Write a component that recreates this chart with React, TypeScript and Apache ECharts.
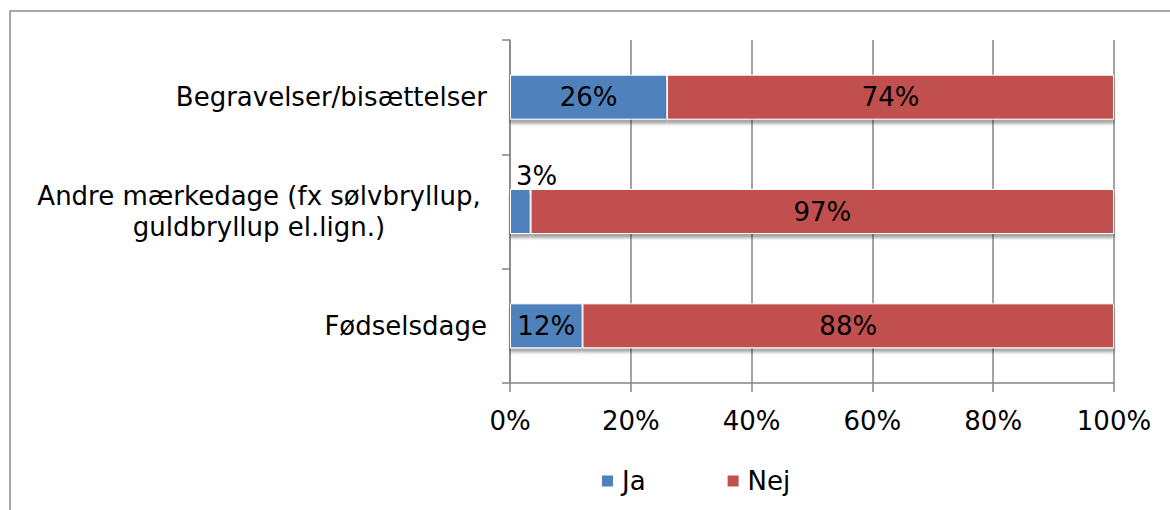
import React, { useEffect, useRef } from "react";
import * as echarts from "echarts";

const categories = [
  "Fødselsdage",
  "Andre mærkedage (fx sølvbryllup,\nguldbryllup el.lign.)",
  "Begravelser/bisættelser",
];
const jaValues = [12, 3.4, 26];
const nejValues = [88, 96.6, 74];
const xTicks = [0, 20, 40, 60, 80, 100];
const seriesNames = ["Ja", "Nej"];

const FONT = "DejaVu Sans";
const GRID = "#868686";
const FS = 26;

export default function App() {
  const ref = useRef<HTMLDivElement>(null);
  useEffect(() => {
    if (!ref.current) return;
    const chart = echarts.init(ref.current, null, { renderer: "svg" });
    const fmt = (p: any) => `${Math.round(p.value)}%`;
    const barStyle = {
      borderColor: "#ffffff",
      borderWidth: 1,
      shadowColor: "rgba(0,0,0,0.35)",
      shadowOffsetY: 4,
      shadowBlur: 3,
    };
    chart.setOption({
      animation: false,
      textStyle: { fontFamily: FONT },
      graphic: [
        {
          type: "rect",
          shape: { x: 10, y: 11, width: 1300, height: 700 },
          style: { fill: "none", stroke: "#8c8c8c", lineWidth: 1.5 },
          silent: true,
        },
      ],
      grid: { left: 510, right: 56, top: 40, bottom: 127, containLabel: false },
      legend: {
        data: seriesNames,
        left: 595,
        top: 463,
        icon: "rect",
        itemWidth: 13,
        itemHeight: 13,
        itemGap: 80,
        textStyle: {
          fontFamily: FONT,
          fontSize: FS,
          color: "#000",
          padding: [0, 0, 0, 3],
        },
      },
      xAxis: {
        type: "value",
        min: 0,
        max: 100,
        interval: 20,
        axisLine: { show: true, lineStyle: { color: GRID, width: 1.5 } },
        axisTick: { show: true, length: 9, lineStyle: { color: GRID, width: 1.5 } },
        splitLine: { show: true, lineStyle: { color: GRID, width: 1.5 } },
        axisLabel: {
          formatter: (v: number) => (xTicks.includes(v) ? `${v}%` : ""),
          fontFamily: FONT,
          fontSize: FS,
          color: "#000",
          margin: 25,
        },
      },
      yAxis: {
        type: "category",
        data: categories,
        axisLine: { show: true, lineStyle: { color: GRID, width: 1.5 } },
        axisTick: { show: true, length: 8, lineStyle: { color: GRID, width: 1.5 } },
        axisLabel: {
          fontFamily: FONT,
          fontSize: FS,
          color: "#000",
          margin: 23,
          formatter: (v: string) =>
            v.includes("\n")
              ? v
                  .split("\n")
                  .map((s) => `{c|${s}}`)
                  .join("\n")
              : v,
          rich: {
            c: {
              width: 456,
              align: "center",
              fontFamily: FONT,
              fontSize: FS,
              lineHeight: 31,
              color: "#000",
            },
          },
        },
      },
      series: [
        {
          name: "Ja",
          type: "bar",
          stack: "total",
          barWidth: 45,
          data: jaValues.map((v, i) =>
            i === 1
              ? {
                  value: v,
                  label: {
                    position: [6, -26],
                    align: "left",
                    verticalAlign: "top",
                  },
                }
              : v
          ),
          itemStyle: { color: "#4F81BD", ...barStyle },
          label: {
            show: true,
            position: "inside",
            formatter: fmt,
            fontFamily: FONT,
            fontSize: FS,
            color: "#000",
          },
        },
        {
          name: "Nej",
          type: "bar",
          stack: "total",
          barWidth: 45,
          data: nejValues,
          itemStyle: { color: "#C0504D", ...barStyle },
          label: {
            show: true,
            position: "inside",
            formatter: fmt,
            fontFamily: FONT,
            fontSize: FS,
            color: "#000",
          },
        },
      ],
    });
    return () => chart.dispose();
  }, []);
  return (
    <div
      ref={ref}
      style={{ position: "fixed", left: 0, top: 0, width: 1170, height: 510, background: "#fff" }}
    />
  );
}
